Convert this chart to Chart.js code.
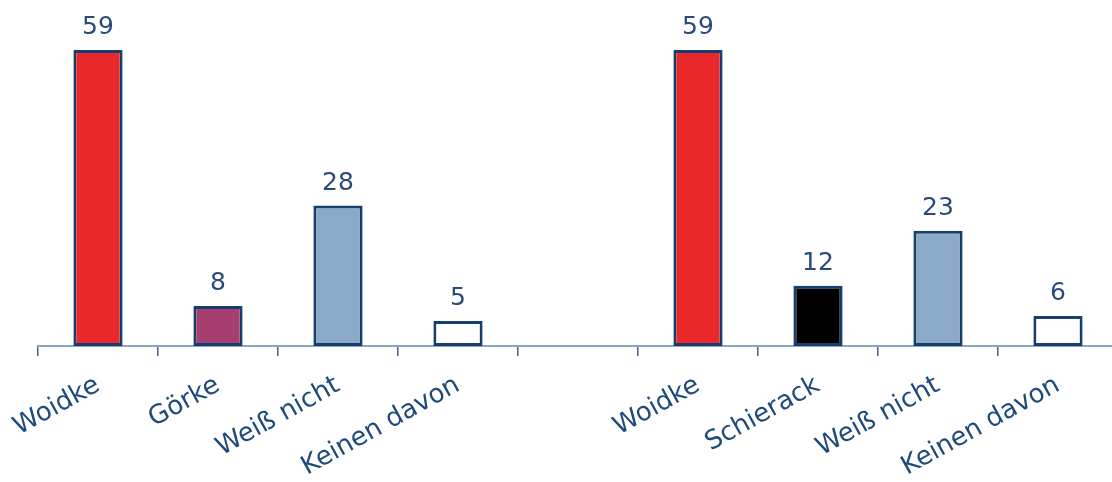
<!DOCTYPE html>
<html><head><meta charset="utf-8">
<script src="https://cdn.jsdelivr.net/npm/chart.js@4/dist/chart.umd.min.js"></script>
<style>
html,body{margin:0;padding:0;background:#fff;overflow:hidden;width:1112px;height:482px;}
#wrap{width:1118px;height:482px;position:relative;}
</style></head>
<body><div id="wrap"><canvas id="c" width="1118" height="482"></canvas></div>
<script>
const categories = ["Woidke","Görke","Weiß nicht","Keinen davon","","Woidke","Schierack","Weiß nicht","Keinen davon"];
const values = [59, 8, 28, 5, null, 59, 12, 23, 6];
const barColors = ["#e9282b","#a63f6f","#8aaac8","#ffffff","#ffffff","#e9282b","#000000","#8aaac8","#ffffff"];

const valueLabels = {
  id:'valueLabels',
  afterDatasetsDraw(chart){
    const ctx = chart.ctx;
    const meta = chart.getDatasetMeta(0);
    ctx.save();
    ctx.font = '25px "DejaVu Sans"';
    ctx.fillStyle = '#2a4a7a';
    ctx.textAlign = 'center';
    ctx.textBaseline = 'alphabetic';
    meta.data.forEach((bar,i)=>{
      if(values[i]==null) return;
      ctx.fillText(String(values[i]), bar.x, bar.y - 16);
    });
    ctx.restore();
  }
};

new Chart(document.getElementById('c'), {
  type:'bar',
  data:{labels:categories, datasets:[{data:values, backgroundColor:barColors, borderColor:'#173f6e', borderWidth:3, borderSkipped:false, categoryPercentage:1, barPercentage:0.41}]},
  options:{
    responsive:false, animation:false, maintainAspectRatio:false,
    layout:{padding:{left:38,right:0,top:20,bottom:0}},
    plugins:{legend:{display:false}, tooltip:{enabled:false}},
    scales:{
      x:{
        grid:{display:true, drawOnChartArea:false, drawTicks:true, tickLength:10, color:'#3f6594', lineWidth:1.5, offset:true},
        border:{display:true, color:'#8ba6c2', width:2},
        ticks:{color:'#1f4a7c', font:{family:'"DejaVu Sans"', size:26}, minRotation:29, maxRotation:29, padding:14, autoSkip:false},
        afterFit(s){ s.height = 136; s.paddingLeft = 0; s.paddingRight = 0; }
      },
      y:{display:false, min:0, max:65}
    }
  },
  plugins:[valueLabels]
});
</script></body></html>
